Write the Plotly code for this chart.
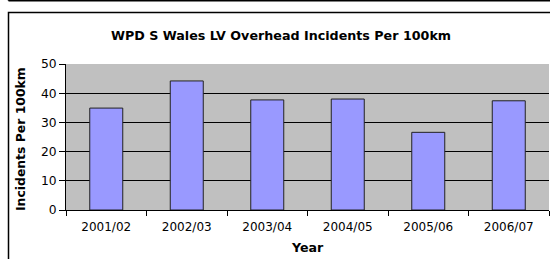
import plotly.graph_objects as go

years = ["2001/02", "2002/03", "2003/04", "2004/05", "2005/06", "2006/07"]
incidents = [34.9, 44.2, 37.7, 38.0, 26.6, 37.4]
y_ticks = [0, 10, 20, 30, 40, 50]

W, H = 550, 259
L, R, T, B = 66, 1, 64, 49
pw, ph = W - L - R, H - T - B

def px(x):
    return (x - L) / pw

def py(y):
    return (H - B - y) / ph

fig = go.Figure()
fig.add_trace(go.Bar(
    x=years, y=incidents,
    marker=dict(color="#9999FF", line=dict(color="#222222", width=1)),
))

font_family = "DejaVu Sans, Verdana, sans-serif"

fig.update_layout(
    width=W, height=H,
    margin=dict(l=L, r=R, t=T, b=B, pad=0),
    paper_bgcolor="white",
    plot_bgcolor="#C0C0C0",
    bargap=0.59,
    showlegend=False,
    font=dict(family=font_family, size=12, color="black"),
    title=dict(
        text="<b>WPD S Wales LV Overhead Incidents Per 100km</b>",
        x=281 / W, xanchor="center",
        y=(H - 36) / H, yanchor="middle",
        font=dict(size=12.7, family=font_family, color="black"),
    ),
    xaxis=dict(
        type="category",
        showline=True, linecolor="black", linewidth=1,
        ticks="outside", ticklen=5, tickcolor="black",
        tickson="boundaries",
        ticklabelstandoff=6,
        showgrid=False,
        tickfont=dict(size=12),
    ),
    yaxis=dict(
        range=[0, 50],
        tickvals=y_ticks,
        showline=True, linecolor="black", linewidth=1,
        ticks="outside", ticklen=6, tickcolor="black",
        showgrid=True, gridcolor="black", gridwidth=1,
        zeroline=False,
        tickfont=dict(size=12.3),
    ),
    annotations=[
        dict(text="<b>Incidents Per 100km</b>", xref="paper", yref="paper",
             x=px(20), y=py(139), xanchor="center", yanchor="middle",
             textangle=-90, showarrow=False, font=dict(size=12.4)),
        dict(text="<b>Year</b>", xref="paper", yref="paper",
             x=px(307.5), y=py(247), xanchor="center", yanchor="middle",
             showarrow=False, font=dict(size=12.6)),
    ],
    shapes=[
        dict(type="rect", xref="paper", yref="paper",
             x0=px(8.5), x1=px(553), y0=py(12.5), y1=py(262),
             line=dict(color="black", width=1.5), layer="below"),
        dict(type="line", xref="paper", yref="paper",
             x0=px(8.5), x1=px(553), y0=py(0.7), y1=py(0.7),
             line=dict(color="black", width=1.5)),
        dict(type="line", xref="paper", yref="paper",
             x0=px(8.5), x1=px(8.5), y0=py(0.7), y1=py(-5),
             line=dict(color="black", width=1.5)),
    ],
)

fig.write_html(
    "out.html",
    config={"displayModeBar": False},
    post_script="document.body.style.margin='0';document.body.style.overflow='hidden';",
)
